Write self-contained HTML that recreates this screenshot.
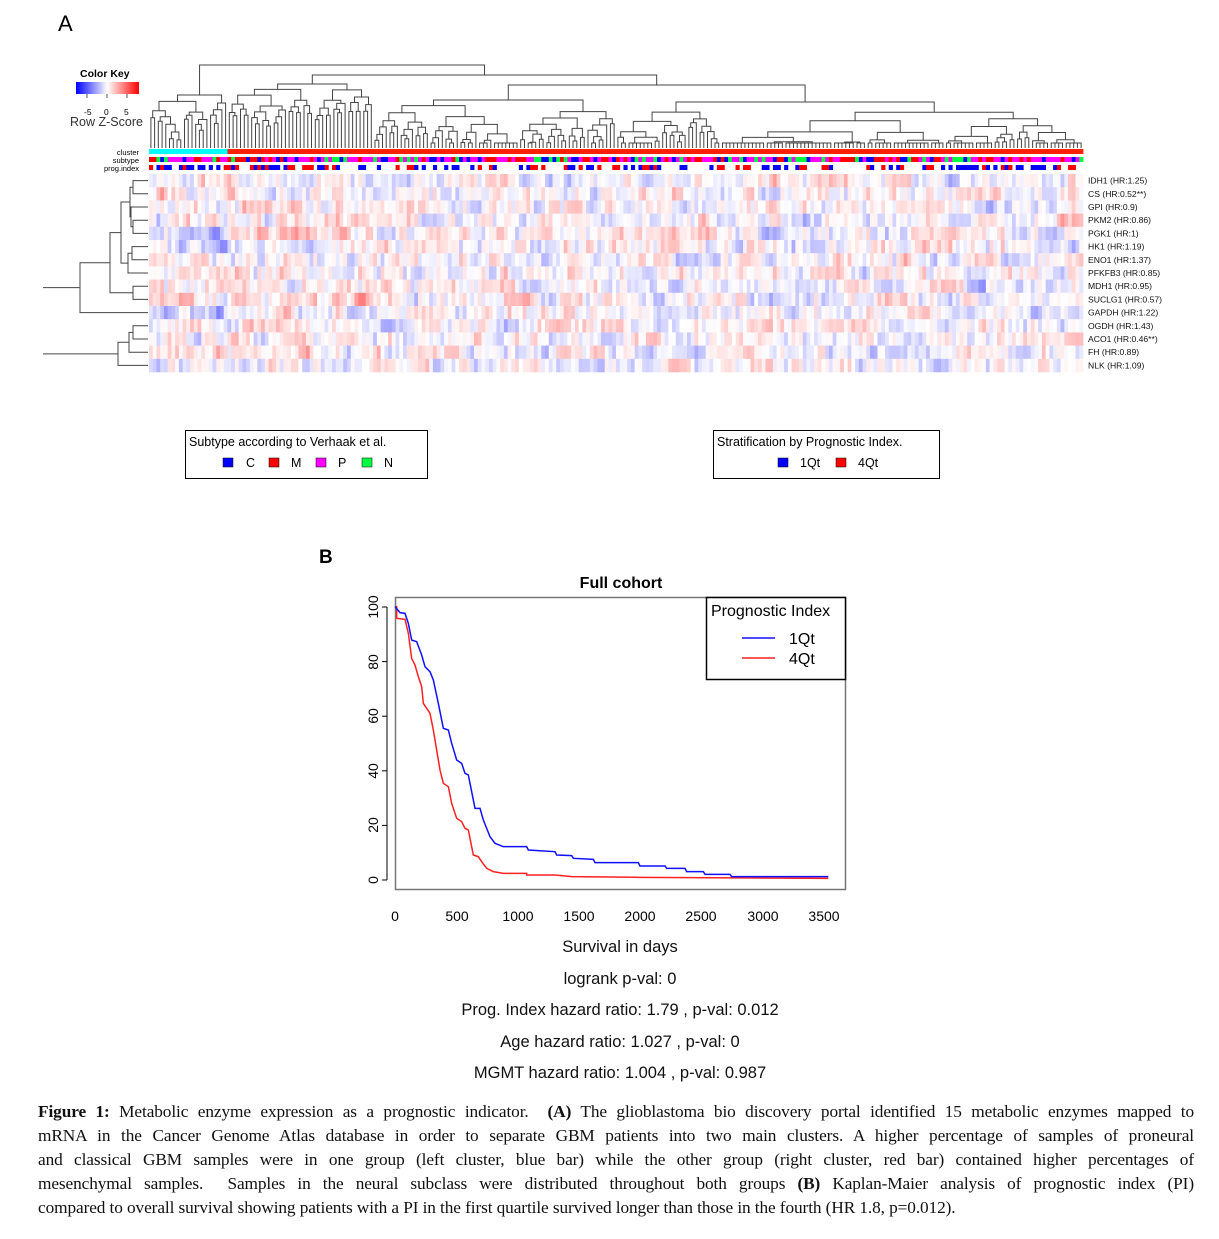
<!DOCTYPE html>
<html><head><meta charset="utf-8">
<style>
html,body{margin:0;padding:0;background:#fff;}
body{width:1219px;height:1239px;position:relative;overflow:hidden;font-family:"Liberation Sans",sans-serif;}
.cap{position:absolute;left:38px;width:1156px;font-family:"Liberation Serif",serif;font-size:17.3px;color:#111;letter-spacing:-0.1px;}
.cap div{height:24px;line-height:24px;text-align:justify;text-align-last:justify;white-space:nowrap;}
.cap div.last{text-align-last:left;}
</style></head><body>
<svg id="s" width="1219" height="1239" style="position:absolute;left:0;top:0" font-family="Liberation Sans, sans-serif">
<defs><linearGradient id="ck" x1="0" x2="1"><stop offset="0" stop-color="#0000ff"/><stop offset="0.5" stop-color="#ffffff"/><stop offset="1" stop-color="#ff0000"/></linearGradient></defs>
<text x="58" y="31" font-size="22">A</text>
<text x="80" y="77" font-size="10.5" font-weight="bold">Color Key</text>
<rect x="76" y="82" width="63" height="12" fill="url(#ck)"/>
<g stroke="#555" stroke-width="1"><line x1="87" y1="94" x2="87" y2="98"/><line x1="107" y1="94" x2="107" y2="98"/><line x1="127" y1="94" x2="127" y2="98"/></g>
<text x="84" y="115" font-size="8.5">-5</text><text x="104" y="115" font-size="8.5">0</text><text x="124" y="115" font-size="8.5">5</text>
<text x="70" y="126" font-size="12.5" fill="#333">Row Z-Score</text>
<g font-size="7.5" text-anchor="end"><text x="139" y="155">cluster</text><text x="139" y="163">subtype</text><text x="139" y="171">prog.index</text></g>
<g id="hm"></g>
<g id="den" stroke="#444" stroke-width="1" fill="none"></g>
<g font-size="8.6" fill="#111" id="lab"></g>
<rect x="185.5" y="430.5" width="242" height="48" fill="none" stroke="#000"/>
<text x="189" y="446" font-size="12.5">Subtype according to Verhaak et al.</text>
<g font-size="12.5"><rect x="223" y="458" width="10" height="9" fill="#0000ff" stroke="#000" stroke-width=".5"/><text x="246" y="467">C</text>
<rect x="269" y="458" width="10" height="9" fill="#ff0000" stroke="#000" stroke-width=".5"/><text x="291" y="467">M</text>
<rect x="316" y="458" width="10" height="9" fill="#ff00ff" stroke="#000" stroke-width=".5"/><text x="338" y="467">P</text>
<rect x="362" y="458" width="10" height="9" fill="#00ff40" stroke="#000" stroke-width=".5"/><text x="384" y="467">N</text></g>
<rect x="713.5" y="430.5" width="226" height="48" fill="none" stroke="#000"/>
<text x="717" y="446" font-size="12.5">Stratification by Prognostic Index.</text>
<g font-size="12.5"><rect x="778" y="458" width="10" height="9" fill="#0000ff" stroke="#000" stroke-width=".5"/><text x="800" y="467">1Qt</text>
<rect x="836" y="458" width="10" height="9" fill="#ff0000" stroke="#000" stroke-width=".5"/><text x="858" y="467">4Qt</text></g>
<text x="319" y="563" font-size="19" font-weight="bold">B</text>
<text x="621" y="588" font-size="16" font-weight="bold" text-anchor="middle">Full cohort</text>
<rect x="395.5" y="597.5" width="450" height="292" fill="none" stroke="#777" stroke-width="1.5"/>
<g stroke="#000" stroke-width="1"><line x1="387" y1="607" x2="387" y2="880"/>
<line x1="382" y1="607" x2="387" y2="607"/><line x1="382" y1="661.6" x2="387" y2="661.6"/><line x1="382" y1="716.2" x2="387" y2="716.2"/><line x1="382" y1="770.8" x2="387" y2="770.8"/><line x1="382" y1="825.4" x2="387" y2="825.4"/><line x1="382" y1="880" x2="387" y2="880"/></g>
<g font-size="14" text-anchor="middle">
<text transform="translate(378,607) rotate(-90)">100</text><text transform="translate(378,662) rotate(-90)">80</text><text transform="translate(378,716) rotate(-90)">60</text><text transform="translate(378,771) rotate(-90)">40</text><text transform="translate(378,825) rotate(-90)">20</text><text transform="translate(378,880) rotate(-90)">0</text>
<text x="395" y="921">0</text><text x="457" y="921">500</text><text x="518" y="921">1000</text><text x="579" y="921">1500</text><text x="640" y="921">2000</text><text x="701" y="921">2500</text><text x="763" y="921">3000</text><text x="824" y="921">3500</text></g>
<g font-size="16.5" text-anchor="middle" fill="#111">
<text x="620" y="952">Survival in days</text>
<text x="620" y="984">logrank p-val: 0</text>
<text x="620" y="1015">Prog. Index hazard ratio:  1.79 , p-val:  0.012</text>
<text x="620" y="1047">Age  hazard ratio:  1.027 , p-val:  0</text>
<text x="620" y="1078">MGMT  hazard ratio:  1.004 , p-val:  0.987</text></g>
<g transform="translate(380,590) scale(0.33333)" fill="none" stroke-width="4.5">
<polyline stroke="#ff2020" points="45,50 50,50 50,85 75,88 85,130 95,205 105,225 115,260 125,290 130,340 150,370 160,420 170,480 180,540 190,580 205,590 215,640 230,685 245,695 255,715 265,720 280,795 295,800 305,815 320,835 340,845 370,850 440,850 440,855 525,855 575,860 775,862 1345,865"/>
<polyline stroke="#1010ff" points="45,50 60,68 75,70 85,100 95,150 110,155 125,195 135,230 150,245 160,270 175,340 190,415 205,420 215,460 230,510 245,520 255,550 265,555 285,655 300,655 310,690 330,740 345,760 370,770 440,770 445,780 525,785 530,795 575,797 580,805 640,808 645,818 775,818 780,828 855,828 860,835 915,835 920,845 970,845 975,853 1050,853 1055,860 1345,860"/>
</g>
<rect x="706.5" y="597.5" width="139" height="82" fill="#fff" stroke="#000" stroke-width="1.5"/>
<text x="711" y="616" font-size="16">Prognostic Index</text>
<line x1="742" y1="638" x2="775" y2="638" stroke="#1010ff" stroke-width="1.5"/>
<line x1="742" y1="658" x2="775" y2="658" stroke="#ff2020" stroke-width="1.5"/>
<text x="789" y="644" font-size="16">1Qt</text><text x="789" y="664" font-size="16">4Qt</text>
</svg>
<div class="cap" style="top:1100px">
<div><b>Figure 1:</b> Metabolic enzyme expression as a prognostic indicator.&nbsp; <b>(A)</b> The glioblastoma bio discovery portal identified 15 metabolic enzymes mapped to</div>
<div>mRNA in the Cancer Genome Atlas database in order to separate GBM patients into two main clusters. A higher percentage of samples of proneural</div>
<div>and classical GBM samples were in one group (left cluster, blue bar) while the other group (right cluster, red bar) contained higher percentages of</div>
<div>mesenchymal samples.&nbsp; Samples in the neural subclass were distributed throughout both groups <b>(B)</b> Kaplan-Maier analysis of prognostic index (PI)</div>
<div class="last">compared to overall survival showing patients with a PI in the first quartile survived longer than those in the fourth (HR 1.8, p=0.012).</div>
</div>
<script>
var seed=7;function r(){seed=(seed*16807)%2147483647;return seed/2147483647;}
var NS="http://www.w3.org/2000/svg";
function el(p,t,a){var e=document.createElementNS(NS,t);for(var k in a)e.setAttribute(k,a[k]);p.appendChild(e);return e;}
var hm=document.getElementById('hm'),den=document.getElementById('den'),lab=document.getElementById('lab');
var X0=149,X1=1083,N=250,cw=(X1-X0)/N,Y0=174,rh=13.2;
function col(v){v=Math.max(-1,Math.min(1,v));var c;if(v<0){var t=1+v;c='rgb('+Math.round(60+195*t)+','+Math.round(60+195*t)+',255)';}else{var t=1-v;c='rgb(255,'+Math.round(60+195*t)+','+Math.round(60+195*t)+')';}return c;}
function g(){return (r()+r()+r()-1.5)*0.3;}
var prev=[];for(var i=0;i<15;i++)prev.push(0);
for(var j=0;j<N;j++){var x=X0+j*cw;var left=j<21;
 for(var i=0;i<15;i++){var v=0.55*prev[i]+g();prev[i]=v;var w=v;if(left&&(i==4||i==10))w-=0.15;if(!left&&j<70&&(i>=2&&i<=4||i==8||i==9))w+=0.12;if(i==14&&j>140&&j<200)w+=0.08;
  el(hm,'rect',{x:x.toFixed(2),y:(Y0+i*rh).toFixed(2),width:(cw+0.4).toFixed(2),height:rh+0.3,fill:col(w)});}
 el(hm,'rect',{x:x.toFixed(2),y:149,width:(cw+0.4).toFixed(2),height:5,fill:left?'#00ffff':'#ff2000'});
 var q=r(),sc=q<0.4?'#ff00ff':q<0.65?'#ff0000':q<0.88?'#0000ff':'#00ff40';
 el(hm,'rect',{x:x.toFixed(2),y:157,width:(cw+0.4).toFixed(2),height:5,fill:sc});
 var p=r();if(p<0.5)el(hm,'rect',{x:x.toFixed(2),y:165,width:(cw+0.4).toFixed(2),height:5,fill:p<0.25?'#0000ff':'#ff0000'});
}
var names=["IDH1 (HR:1.25)","CS (HR:0.52**)","GPI (HR:0.9)","PKM2 (HR:0.86)","PGK1 (HR:1)","HK1 (HR:1.19)","ENO1 (HR:1.37)","PFKFB3 (HR:0.85)","MDH1 (HR:0.95)","SUCLG1 (HR:0.57)","GAPDH (HR:1.22)","OGDH (HR:1.43)","ACO1 (HR:0.46**)","FH (HR:0.89)","NLK (HR:1.09)"];
names.forEach(function(n,i){var t=el(lab,'text',{x:1088,y:(Y0+i*rh+rh/2+3).toFixed(1)});t.textContent=n;});
function build(lo,hi,h){if(hi-lo<=1)return {x:X0+(lo+0.5)*cw,y:148};
 var n=hi-lo;
 var s=lo+Math.max(1,Math.min(n-1,Math.round(n*(0.2+0.6*r()))));
 function nh(){var base=n>40?h+5+7*r():n>10?h+4+7*r():h+3+6*r();return Math.min(base,143);}
 var a=build(lo,s,nh()),b=build(s,hi,nh());
 el(den,'path',{d:'M'+a.x.toFixed(1)+','+a.y.toFixed(1)+'V'+h.toFixed(1)+'H'+b.x.toFixed(1)+'V'+b.y.toFixed(1)});
 return {x:(a.x+b.x)/2,y:h};}
(function(){var a=build(0,21,95),b0=build(21,60,84),b1=build(60,125,100),b2=build(125,250,102);
 el(den,'path',{d:'M'+b1.x+','+b1.y+'V85H'+b2.x+'V'+b2.y});var cx=(b1.x+b2.x)/2;
 el(den,'path',{d:'M'+b0.x+','+b0.y+'V75H'+cx+'V85'});var dx=(b0.x+cx)/2;
 el(den,'path',{d:'M'+a.x+','+a.y+'V65H'+dx+'V75'});})();
function ry(i){return Y0+i*rh+rh/2;}
function rb(n){if(typeof n==='number')return {x:148,y:ry(n)};var a=rb(n[0]),b=rb(n[1]),h=n[2];
 el(den,'path',{d:'M'+a.x+','+a.y+'H'+h+'V'+b.y+'H'+b.x});return {x:h,y:(a.y+b.y)/2};}
var T1=[[0,1,133],[2,[3,4,133],131],130],T2=[[5,6,132],7,128],T12=[T1,T2,121],T123=[T12,[8,9,133],110],T4=[T123,10,80];
var T5=[[[11,12,133],13,129],14,118];
var a=rb(T4);el(den,'path',{d:'M43,'+a.y+'H'+a.x});var b=rb(T5);el(den,'path',{d:'M43,'+b.y+'H'+b.x});
</script>
</body></html>
